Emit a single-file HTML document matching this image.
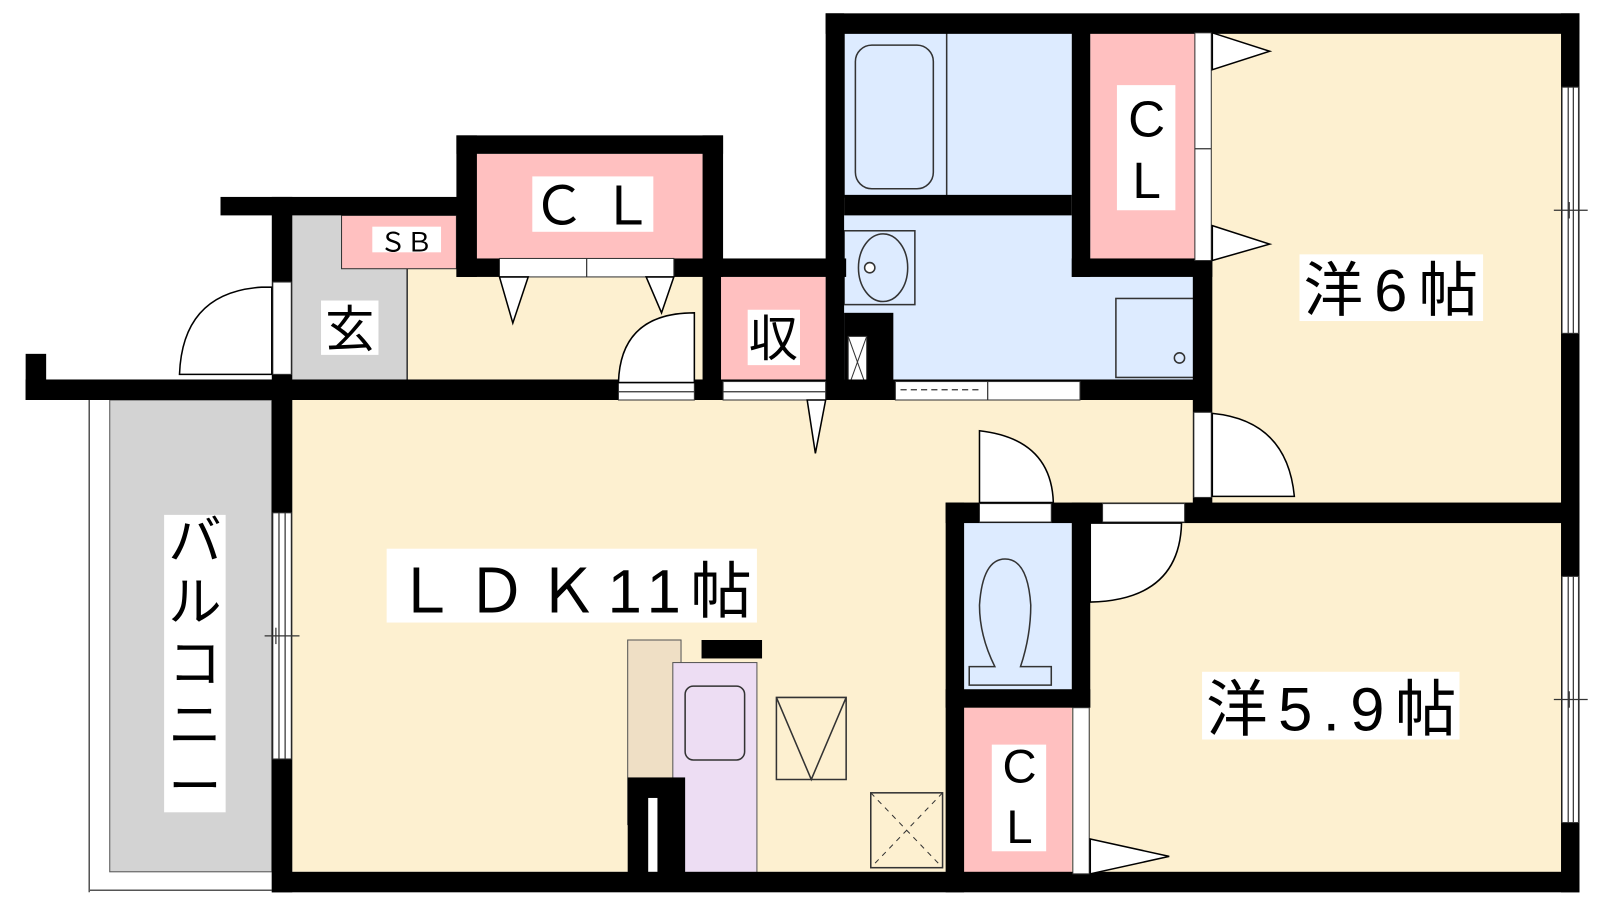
<!DOCTYPE html>
<html><head><meta charset="utf-8"><style>
html,body{margin:0;padding:0;background:#fff;}
svg{display:block}
text{font-family:"Liberation Sans","Noto Sans CJK JP",sans-serif;fill:#000}
</style></head><body>
<svg width="1600" height="900" viewBox="0 0 1560 877.5" preserveAspectRatio="none" xmlns="http://www.w3.org/2000/svg">
<rect x="285" y="390" width="880" height="460" fill="#FDF0D0"/>
<rect x="1165" y="390" width="360" height="100" fill="#FDF0D0"/>
<rect x="1180" y="32" width="345" height="460" fill="#FDF0D0"/>
<rect x="1060" y="508" width="465" height="345" fill="#FDF0D0"/>
<rect x="395" y="262" width="295" height="110" fill="#FDF0D0"/>
<rect x="107" y="390" width="158" height="460" fill="#D3D3D3" stroke="#555" stroke-width="1"/>
<line x1="87" y1="390" x2="87" y2="870" stroke="#555" stroke-width="1.5"/>
<line x1="87" y1="868" x2="265" y2="868" stroke="#555" stroke-width="1.5"/>
<rect x="285" y="210" width="112" height="162" fill="#D3D3D3"/>
<line x1="397" y1="262" x2="397" y2="372" stroke="#333" stroke-width="1.5"/>
<rect x="333" y="210" width="112" height="52" fill="#FFC0C0" stroke="#333" stroke-width="1"/>
<rect x="465" y="150" width="220" height="102" fill="#FFC0C0"/>
<rect x="703" y="270" width="102" height="100" fill="#FFC0C0"/>
<rect x="823" y="32" width="222" height="160" fill="#DDEBFF"/>
<rect x="823" y="210" width="342" height="162" fill="#DDEBFF"/>
<rect x="1063" y="32" width="102" height="222" fill="#FFC0C0"/>
<rect x="940" y="508" width="105" height="166" fill="#DDEBFF"/>
<rect x="940" y="690" width="105" height="162" fill="#FFC0C0"/>
<rect x="823" y="32" width="100" height="160" fill="none" stroke="#333" stroke-width="1.5"/>
<rect x="834" y="44" width="76" height="140" rx="16" fill="none" stroke="#333" stroke-width="1.5"/>
<rect x="823" y="225" width="69" height="72" fill="none" stroke="#333" stroke-width="1.5"/>
<ellipse cx="861" cy="261" rx="24" ry="33" fill="none" stroke="#333" stroke-width="1.5"/>
<circle cx="848" cy="261" r="5" fill="#fff" stroke="#333" stroke-width="1.5"/>
<rect x="1088" y="291" width="77" height="77" fill="none" stroke="#333" stroke-width="1.5"/>
<circle cx="1150" cy="349" r="5" fill="none" stroke="#333" stroke-width="1.5"/>
<rect x="823" y="305" width="48" height="85" fill="#000"/>
<rect x="827" y="328" width="18" height="50" fill="#fff" stroke="#333"/>
<line x1="827" y1="328" x2="845" y2="378" stroke="#333"/><line x1="845" y1="328" x2="827" y2="378" stroke="#333"/>
<path d="M945 668 L945 650 L970 650 Q955 620 955 590 Q958 545 980 545 Q1002 545 1005 590 Q1005 620 995 650 L1025 650 L1025 668 Z" fill="#DDEBFF" stroke="#333" stroke-width="1.5"/>
<rect x="612" y="624" width="52" height="180" fill="#EFDFC5" stroke="#555"/>
<rect x="656" y="646" width="82" height="206" fill="#EDDDF3" stroke="#555"/>
<rect x="684" y="624" width="59" height="18" fill="#000"/>
<rect x="668" y="669" width="58" height="72" rx="8" fill="none" stroke="#333" stroke-width="1.5"/>
<rect x="612" y="758" width="56" height="94" fill="#000"/>
<rect x="632" y="778" width="9" height="78" fill="#fff"/>
<path d="M757 680 L825 680 L825 760 L757 760 Z M757 680 L791 760 L825 680" fill="none" stroke="#333" stroke-width="1.5"/>
<rect x="849" y="773" width="70" height="73" fill="none" stroke="#333" stroke-width="1.5"/>
<path d="M849 773 L919 846 M919 773 L849 846" stroke="#333" stroke-dasharray="5,5"/>
<g fill="#000">
<rect x="805" y="13" width="735" height="20"/>
<rect x="1522" y="13" width="18" height="857"/>
<rect x="265" y="850" width="1275" height="20"/>
<rect x="265" y="390" width="20" height="480"/>
<rect x="805" y="13" width="18" height="377"/>
<rect x="1045" y="32" width="18" height="238"/>
<rect x="823" y="190" width="222" height="20"/>
<rect x="1045" y="252" width="137" height="18"/>
<rect x="1163" y="252" width="19" height="240"/>
<rect x="25" y="345" width="20" height="45"/>
<rect x="25" y="370" width="1155" height="20"/>
<rect x="215" y="192" width="245" height="18"/>
<rect x="265" y="192" width="20" height="198"/>
<rect x="445" y="132" width="260" height="18"/>
<rect x="445" y="132" width="20" height="138"/>
<rect x="685" y="132" width="20" height="138"/>
<rect x="445" y="252" width="380" height="18"/>
<rect x="685" y="252" width="18" height="138"/>
<rect x="922" y="490" width="618" height="20"/>
<rect x="922" y="490" width="18" height="380"/>
<rect x="1045" y="490" width="18" height="200"/>
<rect x="922" y="672" width="141" height="18"/>
</g>
<g fill="#fff" stroke="#333" stroke-width="1">
<rect x="266" y="500" width="18" height="240"/>
<rect x="1523" y="85" width="16" height="240"/>
<rect x="1523" y="562" width="16" height="240"/>
<rect x="266" y="275" width="18" height="90"/>
<rect x="487" y="252" width="170" height="18"/>
<rect x="603" y="372" width="74" height="18"/>
<rect x="705" y="372" width="100" height="18"/>
<rect x="873" y="372" width="180" height="18"/>
<rect x="1165" y="32" width="16" height="222"/>
<rect x="1164" y="402" width="17" height="83"/>
<rect x="955" y="491" width="70" height="18"/>
<rect x="1075" y="491" width="80" height="18"/>
<rect x="1046" y="690" width="16" height="162"/>
</g>
<g stroke="#333" stroke-width="1.2" fill="none">
<line x1="272" y1="500" x2="272" y2="740"/><line x1="278" y1="500" x2="278" y2="740"/>
<line x1="258" y1="620" x2="292" y2="620"/><line x1="269" y1="612" x2="269" y2="628"/>
<line x1="1529" y1="85" x2="1529" y2="325"/><line x1="1534" y1="85" x2="1534" y2="325"/>
<line x1="1515" y1="205" x2="1548" y2="205"/><line x1="1530" y1="197" x2="1530" y2="213"/>
<line x1="1529" y1="562" x2="1529" y2="802"/><line x1="1534" y1="562" x2="1534" y2="802"/>
<line x1="1515" y1="682" x2="1548" y2="682"/><line x1="1530" y1="674" x2="1530" y2="690"/>
<line x1="572" y1="252" x2="572" y2="270"/>
<line x1="1165" y1="145" x2="1181" y2="145"/>
<line x1="963" y1="372" x2="963" y2="390"/>
<line x1="878" y1="380" x2="958" y2="380" stroke-dasharray="6,4"/>
<line x1="603" y1="382" x2="677" y2="382"/>
<line x1="705" y1="382" x2="805" y2="382"/>
</g>
<g fill="#fff" stroke="#000" stroke-width="1.5">
<path d="M265 280 L265 365 L175 365 Q178 285 255 280 Z"/>
<path d="M677 373 L603 373 Q605 305 677 305 Z"/>
<path d="M1182 403 L1182 484 L1262 484 Q1255 410 1182 403 Z"/>
<path d="M955 490 L955 420 Q1025 428 1027 490 Z"/>
<path d="M1063 510 L1063 587 Q1150 585 1152 510 Z"/>
<path d="M487 270 L500 315 L515 270 Z"/>
<path d="M630 270 L645 305 L657 270 Z"/>
<path d="M787 390 L795 442 L805 390 Z"/>
<path d="M1182 32 L1238 50 L1182 68 Z"/>
<path d="M1182 220 L1238 238 L1182 254 Z"/>
<path d="M1063 818 L1140 835 L1063 852 Z"/>
</g>
<g fill="#fff">
<rect x="519" y="172" width="118" height="54"/>
<rect x="363" y="221" width="67" height="25"/>
<rect x="313" y="293" width="56" height="53"/>
<rect x="729" y="302" width="51" height="54"/>
<rect x="1089" y="83" width="57" height="122"/>
<rect x="1267" y="248" width="179" height="65"/>
<rect x="160" y="502" width="60" height="290"/>
<rect x="377" y="535" width="361" height="72"/>
<rect x="1172" y="655" width="251" height="66"/>
<rect x="967" y="726" width="53" height="104"/>
</g>
<text x="578" y="219" font-size="52" text-anchor="middle">Ｃ Ｌ</text>
<text x="396" y="245" font-size="26" text-anchor="middle">ＳＢ</text>
<text x="341" y="338" font-size="48" text-anchor="middle">玄</text>
<text x="754" y="347" font-size="48" text-anchor="middle">収</text>
<text x="1118" y="133" font-size="50" text-anchor="middle">C</text>
<text x="1118" y="193" font-size="50" text-anchor="middle">L</text>
<text x="1356" y="303" font-size="58" text-anchor="middle" textLength="170">洋6帖</text>
<text x="190" y="545" font-size="52" text-anchor="middle">バ</text>
<text x="190" y="605" font-size="52" text-anchor="middle">ル</text>
<text x="190" y="665" font-size="52" text-anchor="middle">コ</text>
<text x="190" y="725" font-size="52" text-anchor="middle">ニ</text>
<text x="190" y="785" font-size="52" text-anchor="middle">ー</text>
<text x="385" y="597" font-size="60" textLength="348">ＬＤＫ11帖</text>
<text x="1176" y="712" font-size="60" textLength="244">洋5.9帖</text>
<text x="994" y="763" font-size="46" text-anchor="middle">C</text>
<text x="994" y="822" font-size="46" text-anchor="middle">L</text>
</svg>
</body></html>
